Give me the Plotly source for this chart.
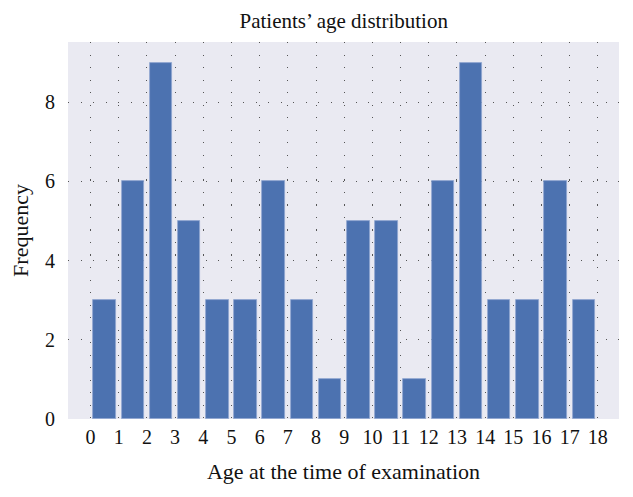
import plotly.graph_objects as go

ages = list(range(18))
frequency = [3, 6, 9, 5, 3, 3, 6, 3, 1, 5, 5, 1, 6, 9, 3, 3, 6, 3]
x_ticks = list(range(19))
y_ticks = [0, 2, 4, 6, 8]

centers = [a + 0.5 for a in ages]

fig = go.Figure()
fig.add_trace(go.Bar(
    x=centers, y=frequency, width=0.8,
    marker=dict(color="#4C72B0", line=dict(color="#8fa6d0", width=0.8)),
    showlegend=False,
))

font_family = "Liberation Serif"
fig.update_layout(
    width=633, height=497,
    margin=dict(l=68, r=14, t=42, b=78, autoexpand=False),
    paper_bgcolor="white",
    plot_bgcolor="#EAEAF2",
    title=dict(text="Patients’ age distribution", x=0.543, xanchor="center",
               y=0.958, yanchor="middle",
               font=dict(family=font_family, size=21, color="#111")),
    font=dict(family=font_family, color="#111"),
    bargap=0,
)
fig.update_xaxes(
    range=[-0.8, 18.75], automargin=False,
    tickvals=x_ticks, ticktext=[str(t) for t in x_ticks],
    tickfont=dict(size=20, family=font_family, color="#111"),
    ticklabelstandoff=4,
    showgrid=True, gridcolor="#555", gridwidth=1.3, griddash="1.3px,11.2px",
    zeroline=False, showline=False, ticks="",
    title=dict(text="Age at the time of examination",
               font=dict(size=22, family=font_family, color="#111"), standoff=16),
)
fig.update_yaxes(
    range=[0, 9.52], automargin=False,
    tickvals=y_ticks, ticktext=[str(t) for t in y_ticks],
    tickfont=dict(size=20, family=font_family, color="#111"),
    ticklabelstandoff=12,
    showgrid=True, gridcolor="#555", gridwidth=1.3, griddash="1.3px,11.2px",
    zeroline=False, showline=False, ticks="",
    title=dict(text="Frequency",
               font=dict(size=22, family=font_family, color="#111"), standoff=10),
)

fig.write_html("out.html", post_script="document.body.style.margin='0';",
               config={"displayModeBar": False})
